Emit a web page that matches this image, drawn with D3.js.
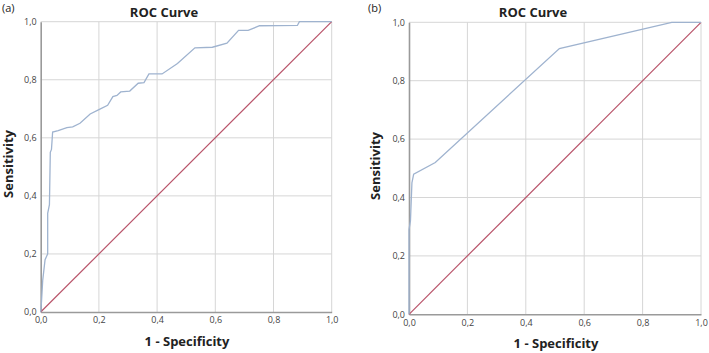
<!DOCTYPE html>
<html>
<head>
<meta charset="utf-8">
<script src="https://cdn.jsdelivr.net/npm/d3@7"></script>
<style>
  body{margin:0;background:#fff;}
  svg text{font-family:"Open Sans","DejaVu Sans",sans-serif;}
</style>
</head>
<body>
<svg id="chart" width="709" height="353"></svg>
<script>
// ROC points [1 - specificity, sensitivity]
const rocA=[[0,0],[0.003,0.04],[0.007,0.11],[0.015,0.18],[0.024,0.2],[0.024,0.34],[0.03,0.37],
  [0.033,0.55],[0.037,0.56],[0.041,0.62],[0.06,0.625],[0.09,0.635],[0.11,0.638],[0.135,0.65],
  [0.17,0.682],[0.2,0.697],[0.23,0.712],[0.248,0.742],[0.262,0.746],[0.275,0.758],[0.306,0.761],
  [0.335,0.788],[0.355,0.79],[0.372,0.82],[0.417,0.82],[0.47,0.856],[0.53,0.91],[0.59,0.912],
  [0.64,0.926],[0.68,0.97],[0.713,0.97],[0.752,0.986],[0.882,0.987],[0.889,1],[1,1]];
const rocB=[[0,0],[0,0.29],[0.005,0.32],[0.01,0.45],[0.016,0.48],[0.09,0.52],[0.515,0.91],[0.9,1],[1,1]];
const reference=[[0,0],[1,1]];
const ticks=[0,0.2,0.4,0.6,0.8,1.0];
const panelLabels=["(a)","(b)"];
const titles=["ROC Curve","ROC Curve"];

const fmt=d=>d3.format(".1f")(d).replace(".",",");

const panels=[
  {data:rocA,label:panelLabels[0],title:titles[0],l:40.7,r:331.7,t:21.7,b:312,
   labX:2,labY:12,titleX:164,titleY:16.5,ylabX:12.5,ylabY:164,xlabX:187,xlabY:346},
  {data:rocB,label:panelLabels[1],title:titles[1],l:409,r:701,t:22.3,b:314.3,
   labX:368,labY:12,titleX:533,titleY:17,ylabX:380,ylabY:166,xlabX:556,xlabY:348}
];

const svg=d3.select("#chart");

panels.forEach(p=>{
  const g=svg.append("g");
  const x=d3.scaleLinear().domain([0,1]).range([p.l,p.r]);
  const y=d3.scaleLinear().domain([0,1]).range([p.b,p.t]);

  // grid
  g.append("g").selectAll("line").data(ticks.slice(1)).join("line")
    .attr("x1",d=>x(d)).attr("x2",d=>x(d)).attr("y1",p.t).attr("y2",p.b)
    .attr("stroke","#d6d6d6").attr("stroke-width",1);
  g.append("g").selectAll("line").data(ticks.slice(1)).join("line")
    .attr("y1",d=>y(d)).attr("y2",d=>y(d)).attr("x1",p.l).attr("x2",p.r)
    .attr("stroke","#d6d6d6").attr("stroke-width",1);

  // axes
  const ax=g.append("g").attr("transform",`translate(0,${p.b})`)
    .call(d3.axisBottom(x).tickValues(ticks).tickFormat(fmt).tickSize(0).tickPadding(5));
  const ay=g.append("g").attr("transform",`translate(${p.l},0)`)
    .call(d3.axisLeft(y).tickValues(ticks).tickFormat(fmt).tickSize(0).tickPadding(4));
  [ax,ay].forEach(a=>{
    a.select(".domain").attr("stroke","#9a9a9a").attr("stroke-width",1.6);
    a.selectAll("text").attr("font-size",9).attr("fill","#444");
  });

  // curves
  const line=d3.line().x(d=>x(d[0])).y(d=>y(d[1]));
  g.append("path").datum(reference).attr("d",line)
    .attr("fill","none").attr("stroke","#b9546a").attr("stroke-width",1.2);
  g.append("path").datum(p.data).attr("d",line)
    .attr("fill","none").attr("stroke","#9fb3cf").attr("stroke-width",1.3);

  // texts
  g.append("text").attr("x",p.labX).attr("y",p.labY).attr("font-size",11).attr("fill","#222").text(p.label);
  g.append("text").attr("x",p.titleX).attr("y",p.titleY).attr("text-anchor","middle")
    .attr("font-size",13).attr("font-weight","bold").attr("fill","#222").text(p.title);
  g.append("text").attr("transform",`translate(${p.ylabX},${p.ylabY}) rotate(-90)`)
    .attr("text-anchor","middle").attr("font-size",13).attr("font-weight","bold").attr("fill","#222").text("Sensitivity");
  g.append("text").attr("x",p.xlabX).attr("y",p.xlabY).attr("text-anchor","middle")
    .attr("font-size",13).attr("font-weight","bold").attr("fill","#222").text("1 - Specificity");
});
</script>
</body>
</html>
